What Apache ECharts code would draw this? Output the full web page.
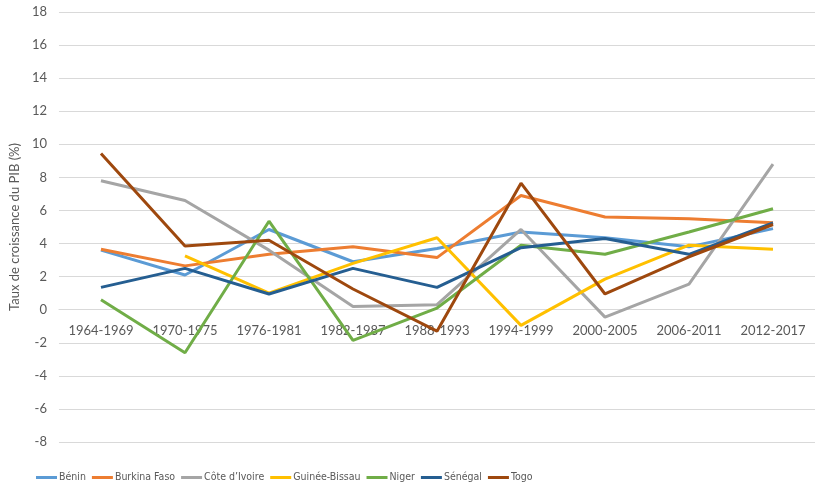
<!DOCTYPE html>
<html>
<head>
<meta charset="utf-8">
<script src="https://cdn.jsdelivr.net/npm/echarts@6/dist/echarts.min.js"></script>
<style>
  html, body { margin: 0; padding: 0; background: #fff; }
  #chart { width: 815px; height: 489px; }
</style>
</head>
<body>
<div id="chart"></div>
<script>
// périodes
const periods = ["1964-1969", "1970-1975", "1976-1981", "1982-1987", "1988-1993",
  "1994-1999", "2000-2005", "2006-2011", "2012-2017"];

// taux de croissance du PIB (%) par pays
const benin = [3.6, 2.1, 4.85, 2.9, 3.7, 4.7, 4.35, 3.8, 4.9];
const burkinaFaso = [3.65, 2.65, 3.35, 3.8, 3.15, 6.9, 5.6, 5.5, 5.25];
const coteIvoire = [7.8, 6.6, 3.6, 0.2, 0.3, 4.85, -0.45, 1.55, 8.8];
const guineeBissau = [null, 3.25, 1.0, 2.8, 4.35, -0.95, 1.85, 3.9, 3.65];
const niger = [0.6, -2.6, 5.35, -1.85, 0.1, 3.9, 3.35, 4.7, 6.1];
const senegal = [1.35, 2.5, 0.95, 2.5, 1.35, 3.75, 4.3, 3.35, 5.25];
const togo = [9.45, 3.85, 4.2, 1.25, -1.3, 7.65, 0.95, 3.2, 5.15];

const countries = ["Bénin", "Burkina Faso", "Côte d’Ivoire", "Guinée-Bissau", "Niger", "Sénégal", "Togo"];
const values = [benin, burkinaFaso, coteIvoire, guineeBissau, niger, senegal, togo];
const colors = ["#5B9BD5", "#ED7D31", "#A5A5A5", "#FFC000", "#70AD47", "#255E91", "#9E480E"];

const chart = echarts.init(document.getElementById("chart"));

// axe des x posé sur la ligne du zéro (onZero ne bouge pas l'axe ici)
const plotHeight = 489 - 12 - 47;
const zeroOffset = -plotHeight * 8 / 26;

chart.setOption({
  animation: false,
  textStyle: { fontFamily: "Lato, 'Open Sans', sans-serif" },
  grid: { left: 53, right: -5, top: 12, bottom: 47 },
  legend: {
    data: countries,
    bottom: 1,
    left: 31,
    icon: "rect",
    itemWidth: 21,
    itemHeight: 3,
    itemGap: 6,
    textStyle: { color: "#595959", fontSize: 10.5, fontFamily: "'DejaVu Sans Condensed', sans-serif", padding: [0, 0, 0, -3] }
  },
  xAxis: {
    type: "category",
    data: periods,
    offset: zeroOffset,
    axisLine: { lineStyle: { color: "#D9D9D9", width: 1 } },
    axisTick: { show: false },
    axisLabel: { color: "#595959", fontSize: 13, margin: 15, interval: 0 }
  },
  yAxis: {
    type: "value",
    min: -8,
    max: 18,
    interval: 2,
    name: "Taux de croissance du PIB (%)",
    nameLocation: "middle",
    nameGap: 36,
    nameTextStyle: { color: "#595959", fontSize: 13 },
    axisLine: { show: false },
    axisTick: { show: false },
    axisLabel: { color: "#595959", fontSize: 13, margin: 12 },
    splitLine: { lineStyle: { color: "#D9D9D9", width: 1 } }
  },
  series: countries.map((name, i) => ({
    name: name,
    type: "line",
    data: values[i],
    showSymbol: false,
    symbol: "none",
    color: colors[i],
    lineStyle: { width: 3, color: colors[i] }
  }))
});
</script>
</body>
</html>
